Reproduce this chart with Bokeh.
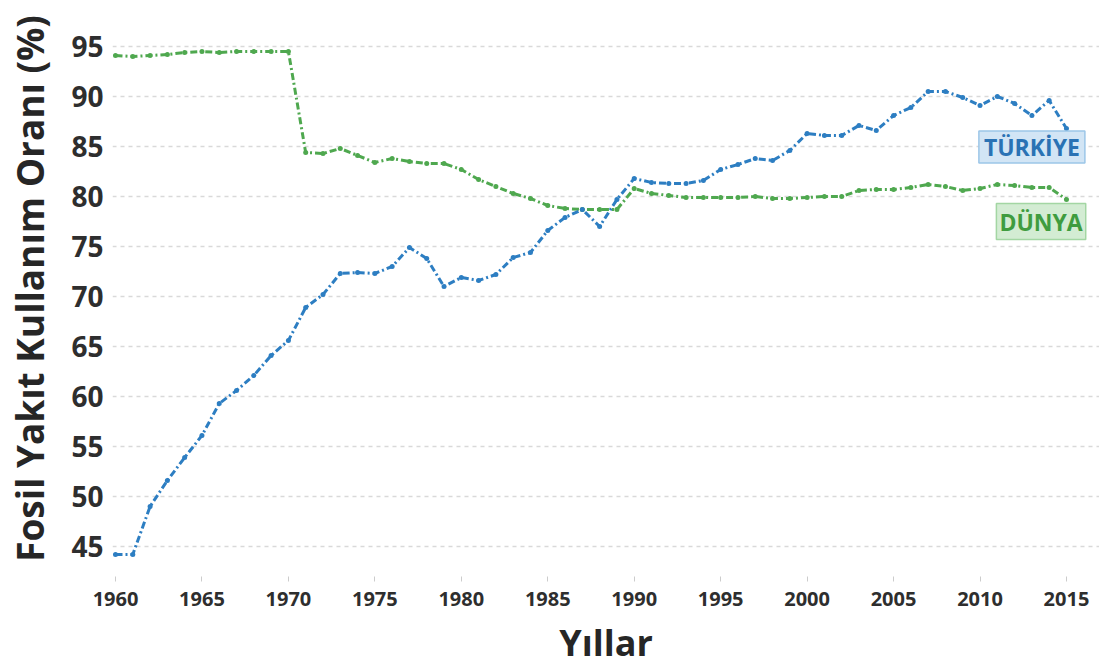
from bokeh.plotting import figure
from bokeh.models import FixedTicker, Label, Range1d
from bokeh.embed import file_html
from bokeh.resources import INLINE

years = list(range(1960, 2016))
turkiye = [44.2, 44.2, 49.0, 51.6, 53.9, 56.1, 59.3, 60.6, 62.1, 64.1, 65.6,
           68.9, 70.2, 72.3, 72.4, 72.3, 73.0, 74.9, 73.8, 71.0, 71.9,
           71.6, 72.2, 73.9, 74.4, 76.6, 77.9, 78.7, 77.0, 79.7, 81.8,
           81.4, 81.3, 81.3, 81.6, 82.7, 83.2, 83.8, 83.6, 84.6, 86.3,
           86.1, 86.1, 87.1, 86.6, 88.1, 88.9, 90.5, 90.5, 89.9, 89.1,
           90.0, 89.3, 88.1, 89.6, 86.8]
dunya = [94.1, 94.0, 94.1, 94.2, 94.4, 94.5, 94.4, 94.5, 94.5, 94.5, 94.5,
         84.4, 84.3, 84.8, 84.1, 83.4, 83.8, 83.5, 83.3, 83.3, 82.7,
         81.7, 81.0, 80.3, 79.8, 79.1, 78.8, 78.7, 78.7, 78.7, 80.8,
         80.3, 80.1, 79.9, 79.9, 79.9, 79.9, 80.0, 79.8, 79.8, 79.9,
         80.0, 80.0, 80.6, 80.7, 80.7, 80.9, 81.2, 81.0, 80.6, 80.8,
         81.2, 81.1, 80.9, 80.9, 79.7]
x_ticks = [1960, 1965, 1970, 1975, 1980, 1985, 1990, 1995, 2000, 2005, 2010, 2015]
y_ticks = [45, 50, 55, 60, 65, 70, 75, 80, 85, 90, 95]

BLUE = "#2d7ec2"
GREEN = "#4fa84f"
FONT = "Open Sans"

p = figure(frame_width=987, frame_height=576, output_backend="svg",
           toolbar_location=None,
           x_range=Range1d(1959.8265, 2016.91), y_range=Range1d(42, 99.6),
           min_border_left=112, min_border_right=0, min_border_top=0,
           min_border_bottom=92)
p.outline_line_color = None
p.background_fill_color = "white"
p.border_fill_color = "white"

p.xgrid.grid_line_color = None
p.ygrid.grid_line_color = "#d9d9d9"
p.ygrid.grid_line_dash = "4 4"
p.ygrid.grid_line_width = 1.5

p.xaxis.ticker = FixedTicker(ticks=x_ticks)
p.yaxis.ticker = FixedTicker(ticks=y_ticks)

for ax in (p.xaxis[0], p.yaxis[0]):
    ax.axis_line_color = None
    ax.minor_tick_line_color = None
    ax.major_label_text_font = FONT
    ax.major_label_text_font_style = "bold"
    ax.major_label_text_color = "#2e2e2e"
    ax.axis_label_text_font = FONT
    ax.axis_label_text_font_style = "bold"
    ax.axis_label_text_color = "#262626"

p.xaxis.major_tick_line_color = "#cccccc"
p.xaxis.major_tick_in = 0
p.xaxis.major_tick_out = 5
p.xaxis.major_label_standoff = 10
p.xaxis.major_label_text_font_size = "20px"
p.xaxis.axis_label = "Yıllar"
p.xaxis.axis_label_text_font_size = "36px"
p.xaxis.axis_label_standoff = 9

p.yaxis.major_tick_line_color = None
p.yaxis.major_tick_in = 0
p.yaxis.major_tick_out = 0
p.yaxis.major_label_standoff = 9
p.yaxis.major_label_text_font_size = "28px"
p.yaxis.axis_label = "Fosil Yakıt Kullanım Oranı (%)"
p.yaxis.axis_label_text_font_size = "37px"
p.yaxis.axis_label_standoff = 13

p.line(years, dunya, line_color=GREEN, line_width=3, line_dash="7 3 2 3")
p.scatter(years, dunya, size=5, fill_color=GREEN, line_color=None)
p.line(years, turkiye, line_color=BLUE, line_width=3, line_dash="7 3 2 3")
p.scatter(years, turkiye, size=5, fill_color=BLUE, line_color=None)

p.add_layout(Label(x=2013.0, y=84.95, text="TÜRKİYE", text_align="center",
                   text_baseline="middle", text_font=FONT, text_font_style="bold",
                   text_font_size="23px", text_color="#2a72b4",
                   background_fill_color="#d2e5f5", border_line_color="#9cc6e8",
                   border_line_width=1.5,
                   padding=dict(left=5, right=5, top=0, bottom=0)))
p.add_layout(Label(x=2013.53, y=77.5, text="DÜNYA", text_align="center",
                   text_baseline="middle", text_font=FONT, text_font_style="bold",
                   text_font_size="23px", text_color="#3f9c3f",
                   background_fill_color="#d3ecd3", border_line_color="#a3d6a3",
                   border_line_width=1.5,
                   padding=dict(left=3, right=3, top=2, bottom=2)))

open("out.html", "w").write(file_html(p, INLINE))
